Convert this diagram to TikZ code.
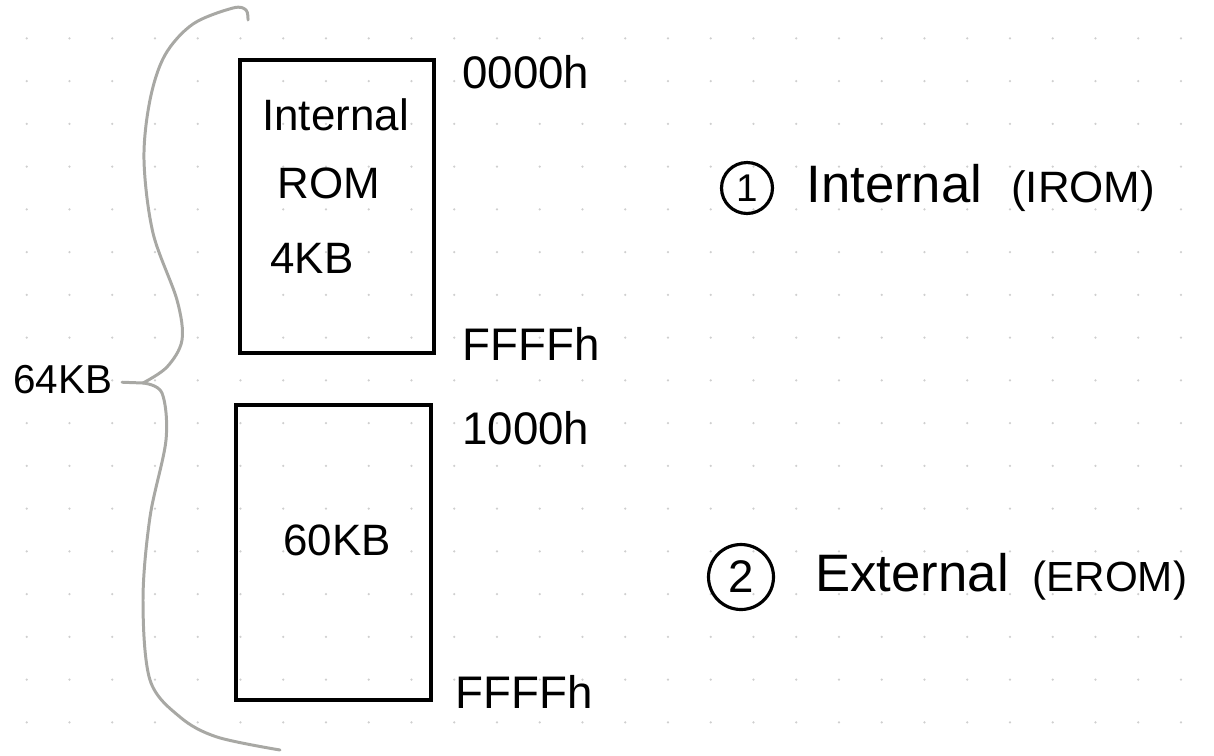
\documentclass[tikz,border=0pt]{standalone}
\usepackage{fontspec}
\setmainfont{Liberation Sans}
\usetikzlibrary{positioning}
\definecolor{bracegrey}{HTML}{A8A8A4}
\definecolor{dotgrey}{HTML}{CFCFCF}

\begin{document}
\begin{tikzpicture}[
  x=0.02cm, y=-0.02cm,
  membox/.style={rectangle, draw, line width=1.9pt, minimum width=3.88cm, minimum height=5.86cm, inner sep=0pt},
  boxtext/.style={anchor=west, inner sep=0pt, font=\fontsize{25}{30}\selectfont},
  addr/.style={anchor=west, inner sep=0pt, font=\fontsize{26}{30}\selectfont},
  note/.style={inner sep=0pt, font=\fontsize{30}{36}\selectfont},
  num/.style={circle, draw, line width=1.8pt, minimum size=1.02cm, inner sep=0pt, font=\fontsize{22}{24}\selectfont},
  brace/.style={draw=bracegrey, line width=1.7pt, line cap=round, line join=round},
]
  \useasboundingbox (0,0) rectangle (1214,755);

  % dotted paper
  \foreach \i in {0,...,27}
    \foreach \j in {0,...,16}
      \fill[dotgrey] (26.7+42.75*\i, 38.3+42.75*\j) circle[radius=0.025cm];

  % memory blocks
  \node[membox] (irom) at (337,206.5) {};
  \node[membox, minimum width=3.9cm, minimum height=5.9cm] (erom) at (333.5,552.5) {};

  \node[boxtext] (intl) at (262,115) {Internal};
  \node[boxtext] (rom) at (277,183) {ROM};
  \node[boxtext] (size1) at (270,258) {4KB};
  \node[boxtext] (size2) at (283,540) {60KB};

  % addresses
  \node[addr] (a1) at (462,72) {0000h};
  \node[addr] (a2) at (462,344) {FFFFh};
  \node[addr] (a3) at (462,428) {1000h};
  \node[addr] (a4) at (455,692) {FFFFh};

  % brace and total size
  \coordinate (tip) at (143,383);
  \node[boxtext, anchor=east, outer sep=0.2cm, font=\fontsize{23}{28}\selectfont] (total) at (122,380) {64KB};
  \draw[brace] plot[smooth, tension=0.55] coordinates {(248,20) (246,10) (233,8) (193,24) (165,55) (150,100) (144,160) (153,233) (177,300) (182,340) (167,367) (143,383)};
  \draw[brace] plot[smooth, tension=0.55] coordinates {(143,383) (162,393) (166,440) (150,517) (143,600) (150,680) (180,717) (217,737) (280,750)};
  \draw[brace] (total) -- (tip);

  % kinds of ROM
  \node[num] (n1) at (747,188) {1};
  \node[note, right=0.64cm of n1] (inote) {Internal\hspace{0.55em}{\fontsize{25}{30}\selectfont(IROM)}};
  \node[num, minimum size=1.3cm, font=\fontsize{26}{28}\selectfont] (n2) at (741,577) {2};
  \node[note, right=0.8cm of n2] (enote) {External\hspace{0.45em}{\fontsize{24}{30}\selectfont(EROM)}};
\end{tikzpicture}
\end{document}
